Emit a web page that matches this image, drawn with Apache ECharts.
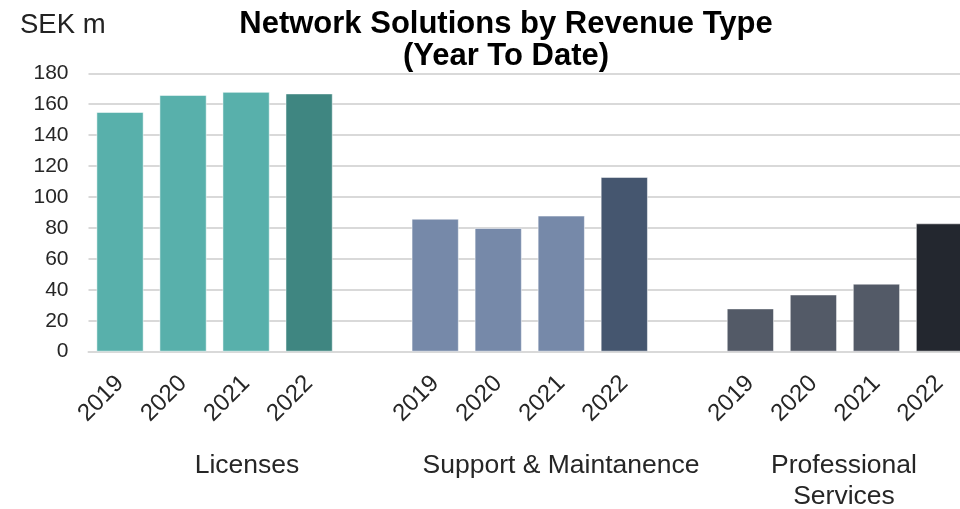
<!DOCTYPE html>
<html><head><meta charset="utf-8">
<script src="https://cdn.jsdelivr.net/npm/echarts@6/dist/echarts.min.js"></script>
<style>html,body{margin:0;padding:0;background:#fff}#c{width:960px;height:509px}</style>
</head><body><div id="c"></div>
<script>
var years = ['2019', '2020', '2021', '2022'];
var groups = ['Licenses', 'Support & Maintanence', 'Professional\nServices'];
var licenses = [155, 166, 168, 167];
var support = [86, 80, 88, 113];
var professional = [28, 37, 44, 83];
var yTicks = [0, 20, 40, 60, 80, 100, 120, 140, 160, 180];

var palette = [
  ['#58B0AB', '#58B0AB', '#58B0AB', '#3F8681'],
  ['#7689A9', '#7689A9', '#7689A9', '#45566F'],
  ['#535A67', '#535A67', '#535A67', '#23272F']
];
var seriesVals = [licenses, support, professional];

var cats = [], data = [];
seriesVals.forEach(function (vals, g) {
  if (g > 0) { cats.push(''); data.push('-'); }
  vals.forEach(function (v, i) {
    cats.push(years[i]);
    data.push({ value: v, itemStyle: { color: palette[g][i] } });
  });
});

var font = 'Liberation Sans, Arial, sans-serif';
var groupPos = [[247, 466], [561, 466], [844, 481]];
var chart = echarts.init(document.getElementById('c'));
chart.setOption({
  animation: false,
  title: [
    { text: 'Network Solutions by Revenue Type\n(Year To Date)', left: 501, top: 3, textAlign: 'center',
      textStyle: { fontFamily: font, fontSize: 31, fontWeight: 'bold', color: '#000', lineHeight: 32 } },
    { text: 'SEK m', left: 15, top: 6,
      textStyle: { fontFamily: font, fontSize: 27.5, fontWeight: 'normal', color: '#222' } }
  ],
  grid: { left: 88.5, top: 73.3, width: 882.5, height: 278.4, containLabel: false, outerBoundsMode: 'none' },
  xAxis: {
    type: 'category', data: cats,
    axisLine: { show: true, lineStyle: { color: '#D9D9D9', width: 2 } },
    axisTick: { show: false },
    axisLabel: { rotate: 45, fontFamily: font, fontSize: 24, color: '#262626', margin: 28, interval: 0 }
  },
  yAxis: {
    type: 'value', min: yTicks[0], max: yTicks[yTicks.length - 1], interval: 20,
    axisLine: { show: false }, axisTick: { show: false },
    axisLabel: { fontFamily: font, fontSize: 21, color: '#262626', margin: 20 },
    splitLine: { lineStyle: { color: '#D9D9D9', width: 2 } }
  },
  series: [{
    type: 'bar', data: data, barCategoryGap: '25%',
    itemStyle: { borderColor: 'rgba(255,255,255,0.5)', borderWidth: 1 }
  }],
  graphic: groups.map(function (g, i) {
    return { type: 'text', x: groupPos[i][0], y: groupPos[i][1],
      style: { text: g, fontFamily: font, fontSize: 26.5, fill: '#262626', align: 'center', verticalAlign: 'middle', lineHeight: 31 } };
  })
});
</script></body></html>
